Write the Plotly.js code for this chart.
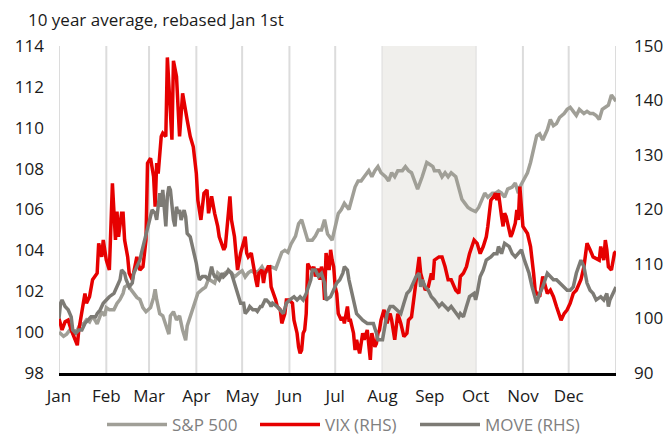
<!DOCTYPE html>
<html>
<head>
<meta charset="utf-8">
<script src="https://cdn.plot.ly/plotly-3.0.1.min.js"></script>
<style>html,body{margin:0;padding:0;background:#fff;}#chart{width:667px;height:436px;}</style>
</head>
<body>
<div id="chart"></div>
<script>
// x values are day-of-year (0 = Jan 1st)
const monthTicks = [0,31,59,90,120,151,181,212,243,273,304,334,365];
const monthLabels = ['Jan','Feb','Mar','Apr','May','Jun','Jul','Aug','Sep','Oct','Nov','Dec',''];
const shadeStart = 212, shadeEnd = 273;

const spDay = [0,2,3,5,7,9,12,14,16,18,20,22,25,26,28,30,31,33,36,38,40,42,43,45,47,49,51,53,55,57,60,62,63,64,66,68,70,72,73,75,77,79,81,83,84,86,88,90,91,94,96,98,100,102,104,107,109,111,113,115,118,120,122,124,126,128,131,133,135,137,139,142,144,146,148,150,152,155,157,159,161,163,166,168,170,172,174,176,179,181,183,185,187,190,192,194,196,198,200,203,205,207,209,211,214,216,218,220,222,225,227,229,231,233,235,238,240,241,243,245,246,249,251,253,255,257,260,262,264,266,268,270,273,275,277,279,281,284,286,288,290,292,294,297,299,301,302,304,307,309,311,313,315,317,320,322,324,326,328,331,333,335,337,339,341,344,346,348,350,352,354,356,358,360,362,364,365];
const spVal = [100.0,99.9,99.8,99.9,100.1,100.0,100.1,100.4,100.4,100.6,100.5,100.8,100.4,100.6,101.0,100.8,101.2,101.1,101.1,101.4,101.6,101.9,102.2,102.3,102.1,101.9,101.7,101.6,101.2,101.0,101.2,101.7,102.1,101.6,100.9,100.8,100.3,99.9,100.8,101.0,100.6,100.8,100.1,99.6,100.3,100.8,101.2,101.7,101.9,102.1,102.2,102.6,102.5,102.4,102.9,102.7,102.9,103.0,102.9,102.7,102.9,103.0,102.7,102.9,103.0,102.9,103.0,103.2,102.9,103.0,103.2,103.1,103.5,103.9,104.0,103.9,104.3,104.7,105.3,105.5,105.0,104.5,104.5,104.7,105.0,105.0,105.5,104.8,104.5,105.2,105.8,106.0,106.3,106.0,106.6,107.1,107.4,107.4,107.6,107.9,107.6,107.9,108.1,107.8,107.6,107.4,107.8,107.6,107.9,107.9,108.1,107.9,107.8,107.4,107.0,107.6,108.1,108.3,108.2,108.1,107.9,107.9,107.6,107.8,107.6,107.8,107.6,107.1,106.5,106.3,106.1,106.0,105.9,106.1,106.5,106.8,106.6,106.8,106.8,106.9,106.8,106.6,107.0,107.1,107.3,106.8,107.1,107.4,107.8,108.3,108.9,109.6,109.7,109.4,109.9,110.4,110.1,110.2,110.5,110.7,110.9,111.0,110.8,110.6,110.9,110.7,110.8,110.7,110.7,110.6,110.4,110.9,111.0,111.1,111.6,111.4,111.3];

const vixDay = [0,2,4,6,8,10,12,13,15,17,18,20,22,25,26,28,29,31,33,35,37,38,39,41,42,43,45,46,48,51,53,55,57,58,60,62,63,64,65,67,68,70,71,73,74,75,77,79,81,84,86,88,90,91,93,95,97,98,100,102,104,105,108,109,112,113,115,116,117,119,120,122,123,124,126,127,129,130,131,133,134,135,137,138,139,142,143,145,146,148,149,151,153,154,156,157,158,159,160,161,162,163,164,166,167,168,169,170,171,172,173,174,175,177,178,179,180,181,182,183,184,185,186,187,189,190,191,192,193,194,195,196,197,199,200,202,203,204,205,207,208,209,210,211,213,215,216,217,218,219,220,221,222,224,226,228,229,231,233,236,237,238,240,242,244,245,246,249,251,253,255,257,260,262,263,265,267,269,272,274,276,278,280,281,283,285,286,287,288,290,291,292,293,295,296,297,299,300,301,302,303,304,307,309,311,312,313,315,317,320,322,324,326,328,329,331,333,335,337,339,342,344,346,348,350,354,355,357,358,359,360,362,364,365];
const vixVal = [100.0,97.9,99.4,99.7,97.9,96.4,95.1,97.9,100.9,104.6,102.8,104.0,107.1,108.3,113.8,111.3,114.4,110.7,108.9,124.8,114.4,119.6,115.0,119.3,119.3,114.4,111.3,108.3,107.1,111.3,108.9,109.5,114.4,128.5,129.4,126.0,120.5,128.5,126.6,133.4,134.0,133.4,147.9,138.9,132.8,147.3,144.4,133.4,141.3,136.4,133.4,131.5,126.6,121.7,118.1,123.0,123.6,119.3,122.4,119.3,116.9,115.0,112.6,113.2,122.4,118.1,115.0,111.9,108.9,112.0,113.2,115.0,112.0,111.3,112.0,110.1,107.1,105.8,108.3,108.9,106.5,108.3,109.5,109.5,105.8,103.4,102.2,101.6,99.1,100.9,103.4,103.4,102.8,99.7,97.3,94.8,93.6,94.2,97.3,97.9,100.9,110.1,109.5,108.9,109.5,107.7,108.9,108.9,107.1,109.5,108.3,103.4,112.0,108.9,112.6,110.7,109.5,105.8,104.6,100.9,100.3,99.7,100.3,99.1,102.2,99.7,99.7,98.5,97.3,94.2,96.1,94.8,93.6,97.3,96.1,97.9,95.4,92.4,97.3,94.8,95.4,97.3,97.9,99.7,101.6,99.1,100.3,100.9,99.7,97.9,96.1,98.5,100.9,99.1,96.7,97.3,99.7,100.3,104.6,111.3,108.3,107.1,105.2,105.8,108.3,107.1,110.7,111.3,111.3,109.5,107.1,107.1,105.2,104.6,107.7,108.3,109.5,111.9,114.4,113.8,111.9,113.2,115.0,116.9,121.7,122.4,123.0,121.7,123.0,118.7,116.9,119.3,118.7,116.2,115.0,115.6,117.5,119.9,118.1,124.2,120.5,116.9,115.6,113.2,108.3,105.2,104.6,104.0,107.7,104.6,105.2,104.0,102.2,100.3,99.7,100.9,101.6,102.8,104.6,105.2,107.1,109.5,113.8,112.6,111.3,110.7,113.2,110.7,114.4,112.6,109.5,108.9,112.0,112.3];

const moveDay = [0,1,2,4,6,8,9,11,13,15,17,19,21,24,25,27,29,31,33,36,38,40,41,43,44,46,48,49,51,53,54,56,57,59,61,63,64,66,67,68,70,71,72,73,74,75,76,77,78,79,80,82,83,84,86,87,89,90,91,92,94,96,98,99,100,101,102,103,105,107,108,110,111,113,115,117,118,119,121,122,124,125,127,129,130,132,133,135,136,138,139,140,143,145,147,149,151,154,156,158,160,162,165,166,168,170,172,174,175,178,180,182,184,186,187,189,190,191,193,195,197,199,202,204,206,208,209,210,212,215,217,219,221,224,226,228,230,232,234,236,237,238,240,242,244,246,249,251,253,255,257,260,262,263,265,267,269,272,273,274,276,278,280,283,285,287,288,290,292,295,297,299,301,303,305,308,310,312,313,315,317,320,322,324,326,328,331,333,335,337,339,342,344,345,346,348,350,352,355,357,359,360,361,363,365];
const moveVal = [100.0,102.8,103.4,102.2,101.6,100.3,97.9,97.3,97.9,97.9,99.1,99.7,100.3,100.3,100.9,101.6,102.8,103.4,104.0,104.6,105.8,107.1,108.9,108.3,107.1,105.8,106.5,108.3,109.5,110.7,112.0,114.4,115.6,118.1,119.9,119.3,118.1,123.0,120.5,123.6,116.9,122.4,124.2,123.6,120.5,118.1,116.9,120.5,119.3,119.9,118.1,119.9,118.7,115.6,115.0,113.8,112.0,110.1,108.3,107.1,107.7,107.7,107.1,108.3,109.5,108.3,107.7,107.7,107.1,108.3,107.7,108.3,108.9,108.3,106.5,104.6,103.4,102.8,102.8,100.9,101.6,102.2,101.6,101.6,101.3,102.2,102.2,103.4,103.4,102.8,102.2,102.8,102.2,101.6,100.9,102.8,103.4,104.0,103.4,104.0,103.4,104.6,107.1,108.9,108.9,107.7,108.3,106.5,103.4,104.0,105.2,106.5,107.1,108.3,109.5,108.9,107.1,105.8,103.4,100.9,100.3,99.7,99.1,99.1,99.1,97.3,96.1,96.1,96.1,100.9,102.2,102.2,101.6,100.9,102.8,104.6,105.2,106.5,107.7,108.3,105.8,107.1,105.8,105.2,104.0,103.4,102.2,102.8,102.2,101.6,102.2,100.9,100.3,100.9,100.3,102.2,104.0,104.6,103.4,104.6,107.7,108.9,110.7,111.3,111.9,111.9,113.2,111.9,113.8,113.2,111.9,111.3,111.9,112.6,110.7,108.3,105.8,103.4,102.8,104.6,105.8,108.3,107.7,107.1,107.1,106.5,105.8,105.2,105.2,105.8,108.3,110.7,109.5,107.7,106.5,105.2,104.6,103.4,104.0,103.4,104.6,102.2,103.4,104.6,105.8];

const FONT = '"Open Sans", "Noto Sans", sans-serif';
const LW = 3.5;
const GRID = '#DCDCDC';

const traces = [
  {x: spDay, y: spVal, name: 'S&P 500', type: 'scatter', mode: 'lines',
   line: {color: '#A09F97', width: LW}, yaxis: 'y', legend: 'legend'},
  {x: vixDay, y: vixVal, name: 'VIX (RHS)', type: 'scatter', mode: 'lines',
   line: {color: '#E60000', width: LW}, yaxis: 'y2', legend: 'legend2'},
  {x: moveDay, y: moveVal, name: 'MOVE (RHS)', type: 'scatter', mode: 'lines',
   line: {color: '#7D7B75', width: LW}, yaxis: 'y2', legend: 'legend3'}
];

// month gridlines first, shaded Aug–Sep band drawn over them
const shapes = monthTicks.map(v => ({type: 'line', xref: 'x', yref: 'paper', x0: v, x1: v, y0: 0, y1: 1,
  line: {color: GRID, width: 2}, layer: 'below'}));
shapes.push({type: 'rect', xref: 'x', yref: 'paper', x0: shadeStart, x1: shadeEnd, y0: 0, y1: 1,
  fillcolor: '#F0EFEC', line: {width: 0}, layer: 'below'});

function legendAt(left) {
  return {orientation: 'h', xref: 'container', x: left / 667, xanchor: 'left',
          yref: 'container', y: 1 - 425/436, yanchor: 'middle',
          font: {size: 17, color: '#808080'}, itemwidth: 60, bgcolor: 'rgba(0,0,0,0)'};
}

const layout = {
  width: 667, height: 436,
  margin: {l: 59, r: 51, t: 46, b: 63},
  paper_bgcolor: '#fff', plot_bgcolor: '#fff',
  font: {family: FONT, size: 17, color: '#1a1a1a'},
  showlegend: true,
  title: {text: '10 year average, rebased Jan 1st', x: 28/667, xanchor: 'left',
          y: 1 - 20/436, yanchor: 'middle', font: {family: FONT, size: 17, color: '#1a1a1a'}},
  xaxis: {range: [0, 365], tickmode: 'array', tickvals: monthTicks, ticktext: monthLabels,
          showgrid: false, zeroline: false,
          showline: true, linecolor: '#000', linewidth: 2.5, ticks: '', ticklabelstandoff: 6,
          tickfont: {size: 17}, fixedrange: true},
  yaxis: {range: [98, 114], tick0: 98, dtick: 2, showgrid: false, zeroline: false,
          showline: false, ticks: '', ticklabelstandoff: 14, tickfont: {size: 17}, fixedrange: true},
  yaxis2: {range: [90, 150], tick0: 90, dtick: 10, overlaying: 'y', side: 'right',
           showgrid: false, zeroline: false, showline: false, ticks: '', ticklabelstandoff: 17,
           tickfont: {size: 17}, fixedrange: true},
  legend: legendAt(102),
  legend2: legendAt(255),
  legend3: legendAt(415),
  shapes: shapes
};

Plotly.newPlot('chart', traces, layout, {displayModeBar: false, staticPlot: true});
</script>
</body>
</html>
